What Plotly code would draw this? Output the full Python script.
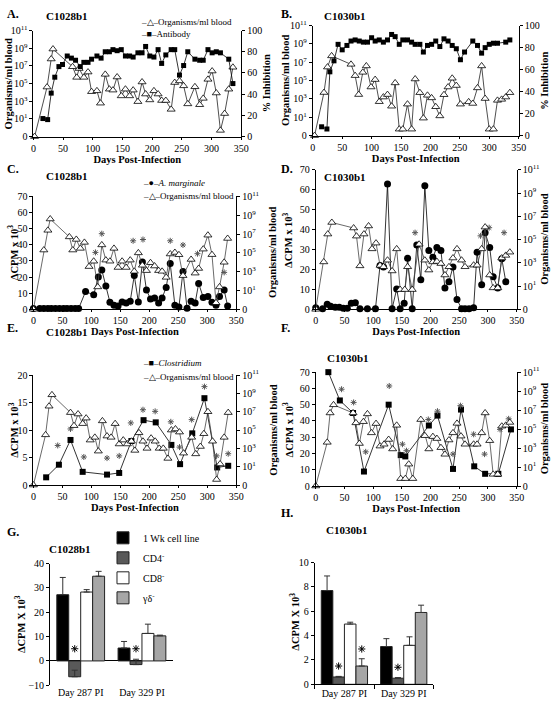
import plotly.graph_objects as go

W, H = 560, 706
FONT = "Liberation Serif"

# ---------------- shared tick definitions ----------------
DAY_TICKS = [0, 50, 100, 150, 200, 250, 300, 350]
ORG_TICKS = [0, 1e1, 1e3, 1e5, 1e7, 1e9, 1e11]
ORG_TICK_TEXT = ["0", "10<sup>1</sup>", "10<sup>3</sup>", "10<sup>5</sup>",
                 "10<sup>7</sup>", "10<sup>9</sup>", "10<sup>11</sup>"]
ZERO_LOG_POS = 0.1  # where the "0" tick sits on the log organisms axis

# ---------------- Panel A (C1028b1) ----------------
a_org_days = [2, 23, 30, 33, 66, 73, 77, 85, 92, 98, 107, 113, 121, 128, 134, 141, 148, 155, 162, 168,
              176, 183, 189, 196, 203, 210, 216, 223, 232, 238, 246, 253, 260, 272, 280, 286, 294, 301,
              308, 315, 322, 329, 336]
a_org = [0, 4e4, 6e7, 8e8, 8e6, 5e5, 5e6, 5e5, 2e6, 1.2e4, 1.5e4, 6e2, 1.1e6, 2.3e4, 1.8e4, 5.5e5, 4e3,
         2.3e4, 4e3, 1.8e4, 9e2, 1.5e5, 6.5e3, 1.4e3, 1.5e4, 6.5e3, 1.2e3, 1.2e3, 1.2e2, 1.3e5, 2e5,
         5.5e4, 5e2, 4.3e4, 4e2, 2.1e3, 3e5, 2.6e6, 8.5e3, 0.5, 40, 2.3e4, 7e6]
a_ab_days = [16, 24, 30, 36, 43, 49, 57, 64, 71, 79, 85, 92, 98, 107, 114, 121, 128, 134, 141, 148, 155,
             162, 168, 176, 183, 189, 196, 203, 210, 216, 223, 232, 238, 246, 253, 260, 272, 280, 286,
             294, 301, 308, 315, 329, 336]
a_ab = [17, 16, 41, 56, 66, 68, 76, 74, 72, 66, 70, 70, 73, 76, 74, 80, 80, 82, 81, 82, 76, 76, 75, 79,
        79, 85, 76, 75, 82, 69, 77, 82, 82, 58, 67, 80, 73, 72, 72, 82, 79, 80, 79, 73, 50]

# ---------------- Panel B (C1030b1) ----------------
b_org_days = [3, 19, 25, 32, 65, 72, 78, 85, 91, 99, 106, 113, 120, 127, 134, 140, 147, 153, 161, 168,
              174, 182, 188, 195, 202, 209, 216, 223, 230, 237, 244, 251, 265, 272, 280, 287, 293, 300,
              307, 314, 321, 328, 335]
b_org = [0, 5e3, 3e6, 5e7, 6e6, 3.5e5, 3e3, 8e5, 4e6, 2e4, 1.3e5, 5e2, 1.6e3, 3e3, 1.6e2, 5.6e4, 0.5,
         0.5, 2.7e2, 0.5, 1.5e5, 4.8e3, 8, 2.5e3, 1.3e3, 1.4e2, 14, 2.9e3, 2e4, 1.8e5, 2.9e4, 2.7e2,
         4.8e2, 3.2e2, 1.6e4, 4e6, 1.1e3, 0.5, 0.5, 7e2, 9e2, 1.6e3, 4.8e3]
b_ab_days = [15, 24, 29, 36, 43, 50, 58, 65, 72, 79, 86, 93, 100, 106, 113, 120, 127, 134, 140, 147, 153,
             161, 168, 174, 182, 188, 195, 202, 209, 216, 223, 230, 237, 244, 251, 258, 272, 280, 287,
             293, 300, 307, 314, 328, 335]
b_ab = [8, 6, 58, 68, 83, 78, 82, 86, 87, 86, 85, 85, 89, 86, 87, 85, 87, 92, 90, 83, 87, 87, 85, 83, 83,
        76, 82, 83, 86, 81, 88, 86, 82, 79, 69, 76, 86, 82, 75, 80, 83, 84, 84, 85, 87]

# ---------------- Panel C (C1028b1, A. marginale) ----------------
c_cpm_days = [0, 11, 18, 25, 31, 38, 45, 52, 58, 65, 72, 78, 90, 104, 112, 118, 125, 132, 139, 146, 153,
              160, 167, 174, 181, 188, 195, 202, 209, 216, 222, 229, 236, 244, 251, 258, 265, 272, 279,
              285, 293, 301, 308, 315, 321, 329, 335]
c_cpm = [0.5, 0.5, 0.5, 0.5, 0.5, 0.5, 0.5, 0.5, 0.5, 0.5, 0.5, 0.5, 11, 9, 20, 24.4, 14.4, 4.4, 2.6, 2,
         4.6, 4, 5, 21, 4.6, 29.4, 12, 6.4, 7, 4, 7, 13.6, 28.4, 2.6, 1.4, 23.4, 0.6, 5, 4, 16, 7.4, 8,
         4.4, 2.6, 8, 12, 2]
c_org_days = [0, 18, 25, 29, 62, 68, 74, 81, 88, 96, 104, 111, 118, 125, 132, 139, 146, 153, 160, 167,
              174, 181, 188, 195, 202, 209, 216, 222, 229, 236, 244, 251, 258, 272, 279, 285, 293, 301,
              308, 315, 321, 329, 335]
c_org = [0, 2e5, 2.5e7, 4e8, 5e6, 2e5, 2.7e6, 3e5, 1.3e6, 3.5e3, 1.3e4, 24, 7e5, 1.7e4, 1.3e4, 3e5,
         2.8e3, 1.3e4, 2.8e3, 1.7e4, 1.1e3, 1e5, 4.8e3, 1.3e3, 9e3, 4e3, 1.3e3, 1.1e3, 2.5e2, 7.6e4,
         1.1e5, 6.3e4, 3.8e2, 2e4, 7e2, 2.2e3, 2.5e5, 7.6e6, 6.5e4, 0.5, 24, 1e4, 3.4e6]
c_sig_days = [107, 118, 172, 189, 236, 258, 283, 329]
c_sig = [35.3, 46.9, 42.5, 43.3, 42.5, 39.9, 34.5, 22.9]

# ---------------- Panel D (C1030b1, A. marginale) ----------------
d_cpm_days = [0, 12, 20, 26, 34, 41, 48, 55, 62, 69, 77, 90, 104, 112, 118, 125, 133, 141, 147, 154,
              160, 168, 176, 183, 190, 197, 204, 211, 218, 225, 232, 239, 246, 254, 260, 267, 275, 281,
              289, 295, 303, 309, 317, 324, 331]
d_cpm = [0.8, 0.3, 2.5, 1.6, 1.1, 1.1, 0.5, 0.5, 3, 3.3, 0.3, 0.3, 0.3, 22, 21.3, 63, 0.3, 10.2, 0.3,
         3, 25.7, 0.3, 32.3, 14.8, 62, 29.5, 26.2, 31.1, 29.5, 10.7, 13.9, 21.3, 4.9, 0.3, 0.3, 0.3,
         0.8, 28.7, 12.3, 38.5, 31.1, 16.4, 10.7, 25.4, 13.9]
d_org_days = [0, 14, 21, 28, 66, 71, 77, 84, 92, 98, 105, 112, 118, 125, 133, 141, 147, 155, 160, 168,
              180, 190, 197, 204, 211, 218, 225, 232, 239, 246, 254, 260, 275, 281, 289, 295, 303, 309,
              317, 324, 331, 338]
d_org = [0, 1.2e3, 3e5, 3e6, 1e6, 2e5, 5.5e2, 3e5, 1.5e6, 1.6e4, 5e4, 6e2, 4.6e2, 1.7e3, 2e2,
         1.6e4, 5, 5, 4.6e2, 5, 4e4, 1.7e3, 2.4e2, 1.2e3, 1.3e3, 8.7e2, 90, 4.6e2, 2.6e3, 1.6e4, 1.7e3,
         4.6e2, 6.3e2, 6.3e2, 1.6e4, 1.2e6, 90, 7, 7, 2.6e3, 4.4e3, 8.3e3]
d_sig_days = [125, 188, 173, 287, 302, 328]
d_sig = [71.5, 71.3, 38.5, 36.9, 41, 38.5]

# ---------------- Panel E (C1028b1, Clostridium) ----------------
e_cpm_days = [22, 44, 64, 85, 127, 148, 169, 190, 211, 238, 253, 274, 295, 317, 336]
e_cpm = [1.4, 3.7, 8.2, 2.4, 1.9, 2.2, 8.0, 11.8, 11.4, 7.3, 3.8, 9.4, 15.8, 3.2, 3.5]
e_org_days = [0, 21, 27, 32, 64, 70, 77, 85, 91, 98, 106, 112, 119, 127, 134, 141, 148, 155, 162, 169,
              175, 182, 189, 196, 203, 210, 217, 224, 232, 238, 245, 252, 259, 273, 280, 288, 294, 301,
              309, 316, 322, 329, 336]
e_org = [0, 3e4, 4e7, 7e8, 8e6, 3e5, 5.6e6, 5e5, 2e6, 8e3, 1.6e4, 5e2, 1e6, 2.2e4, 1.6e4, 5e5, 3e3,
         8e3, 3e3, 6e3, 6e2, 5e4, 6e3, 1e3, 1.3e4, 6e3, 1e3, 1e3, 80, 1e5, 1.3e5, 6e4, 3e2, 1.6e4,
         2.5e2, 1.6e3, 4e4, 1e7, 6e3, 0.4, 20, 1.6e4, 8e6]
e_sig_days = [42, 64, 87, 127, 148, 168, 189, 210, 237, 252, 273, 295, 316, 336]
e_sig = [7.2, 10.2, 5.1, 4.9, 5.3, 11.3, 13.7, 13.4, 11.5, 6.9, 11.9, 17.9, 5.3, 5.7]

# ---------------- Panel F (C1030b1, Clostridium) ----------------
f_cpm_days = [22, 42, 65, 84, 127, 148, 156, 197, 212, 239, 253, 276, 295, 318, 340]
f_cpm = [70, 52.6, 44.9, 8.9, 50, 19, 18.2, 37.2, 43.3, 10.5, 47, 12.1, 7.5, 7.5, 34.8]
f_org_days = [0, 20, 25, 31, 65, 70, 76, 83, 90, 97, 105, 112, 119, 127, 134, 141, 148, 156, 162, 169,
              183, 190, 197, 204, 211, 218, 225, 232, 239, 246, 253, 260, 275, 281, 289, 295, 303, 309,
              317, 324, 331, 338]
f_org = [0, 4e3, 5e6, 3.6e7, 5e6, 4.5e5, 3e3, 6e5, 4e6, 4e4, 3.8e5, 1.6e3, 2.5e3, 8e3, 8e2, 2.5e5, 0.6,
         0.6, 20, 0.6, 1e6, 2e4, 8e2, 1.6e4, 1e4, 1.1e3, 2.2e2, 7e3, 4e4, 4e5, 1.8e4, 2.5e3, 2.5e3,
         2.5e3, 4e4, 5e6, 6e3, 1.7, 1.7, 2e5, 2.5e5, 5e5]
f_sig_days = [22, 45, 66, 87, 128, 151, 158, 196, 212, 239, 252, 275, 294, 321, 336]
f_sig = [73, 59.5, 51.4, 21, 61.5, 25.7, 21.7, 40.9, 46, 19.6, 49.4, 31.8, 19.6, 34.8, 41.3]

# ---------------- Panels G / H (bar charts) ----------------
bar_cats = ["Day 287 PI", "Day 329 PI"]
bar_series = ["1 Wk cell line", "CD4<sup>-</sup>", "CD8<sup>-</sup>", "γδ<sup>-</sup>"]
g_vals = [[27.2, 5.3], [-6.5, -1.5], [28.3, 11.3], [34.8, 10.3]]
g_err = [[7.1, 2.7], [2.7, 2.2], [1.0, 3.8], [2.0, 0.3]]
g_sig = [5.0, 5.0]            # asterisks over CD4- bars
h_vals = [[7.7, 3.1], [0.6, 0.5], [4.95, 3.2], [1.5, 5.9]]
h_err = [[1.2, 0.65], [0.05, 0.05], [0.15, 0.7], [0.6, 0.6]]
h_sig_cd4 = [1.5, 1.4]
h_sig_gd = [2.9]

# ---------------- styling helpers ----------------
BAR_COLORS = ["#000000", "#595959", "#ffffff", "#a6a6a6"]
GROUP_W = 0.78
BAR_W = GROUP_W / len(bar_series)


def org_y(vals):
    return [v if (v is not None and v > 0) else ZERO_LOG_POS for v in vals]


def xdom(a, b):
    return [a / W, b / W]


def ydom(top, bot):
    return [1 - bot / H, 1 - top / H]


TICKFONT = dict(family=FONT, size=10, color="black")
TITLEFONT = dict(family=FONT, size=10.5, color="black", weight="bold")
AX = dict(showline=True, linecolor="black", linewidth=1, ticks="outside", ticklen=3,
          tickcolor="black", tickwidth=1, showgrid=False, zeroline=False, tickfont=TICKFONT)


def day_axis(dom, anchor):
    return dict(AX, domain=dom, anchor=anchor, range=[0, 350], tickvals=DAY_TICKS, ticklen=2,
                title=dict(text="Days Post-Infection", font=TITLEFONT, standoff=0))


def org_axis(dom, anchor, side, overlay=None):
    d = dict(AX, type="log", range=[-1, 11], tickvals=org_y(ORG_TICKS), ticktext=ORG_TICK_TEXT,
             side=side, anchor=anchor)
    if overlay:
        d["overlaying"] = overlay
    else:
        d["domain"] = dom
    return d


def lin_axis(dom, anchor, rng, dtick, side="left", overlay=None):
    d = dict(AX, range=rng, dtick=dtick, side=side, anchor=anchor)
    if overlay:
        d["overlaying"] = overlay
    else:
        d["domain"] = dom
    return d


def org_trace(days, vals, xa, ya, lc="#444444"):
    return go.Scatter(x=days, y=org_y(vals), xaxis=xa, yaxis=ya, mode="lines+markers",
                      name="Organisms/ml blood", showlegend=False,
                      line=dict(color=lc, width=0.8),
                      marker=dict(symbol="triangle-up", size=7, color="white",
                                  line=dict(color="black", width=0.8)),
                      cliponaxis=False)


def filled_trace(days, vals, xa, ya, symbol, size, name):
    return go.Scatter(x=days, y=vals, xaxis=xa, yaxis=ya, mode="lines+markers", name=name,
                      showlegend=False, line=dict(color="black", width=0.8),
                      marker=dict(symbol=symbol, size=size, color="black"), cliponaxis=False)


def sig_trace(days, vals, xa, ya, color="#555555", size=5):
    return go.Scatter(x=days, y=vals, xaxis=xa, yaxis=ya, mode="markers", showlegend=False,
                      marker=dict(symbol="asterisk-open", size=size, color=color,
                                  line=dict(color=color, width=1)),
                      cliponaxis=False, hoverinfo="skip")


fig = go.Figure()

# Panel A
fig.add_trace(org_trace(a_org_days, a_org, "x", "y", lc="#222222"))
fig.add_trace(filled_trace(a_ab_days, a_ab, "x", "y2", "square", 5, "Antibody"))
# Panel B
fig.add_trace(org_trace(b_org_days, b_org, "x2", "y3", lc="#222222"))
fig.add_trace(filled_trace(b_ab_days, b_ab, "x2", "y4", "square", 5, "Antibody"))
# Panel C
fig.add_trace(org_trace(c_org_days, c_org, "x3", "y6"))
fig.add_trace(filled_trace(c_cpm_days, c_cpm, "x3", "y5", "circle", 7, "A. marginale"))
fig.add_trace(sig_trace(c_sig_days, c_sig, "x3", "y5"))
# Panel D
fig.add_trace(org_trace(d_org_days, d_org, "x4", "y8"))
fig.add_trace(filled_trace(d_cpm_days, d_cpm, "x4", "y7", "circle", 7, "A. marginale"))
fig.add_trace(sig_trace(d_sig_days, d_sig, "x4", "y7"))
# Panel E
fig.add_trace(org_trace(e_org_days, e_org, "x5", "y10"))
fig.add_trace(filled_trace(e_cpm_days, e_cpm, "x5", "y9", "square", 6, "Clostridium"))
fig.add_trace(sig_trace(e_sig_days, e_sig, "x5", "y9"))
# Panel F
fig.add_trace(org_trace(f_org_days, f_org, "x6", "y12"))
fig.add_trace(filled_trace(f_cpm_days, f_cpm, "x6", "y11", "square", 6, "Clostridium"))
fig.add_trace(sig_trace(f_sig_days, f_sig, "x6", "y11"))

# Panels G and H: grouped bars on a numeric category axis
cat_pos = list(range(len(bar_cats)))


def bar_offset(i):
    return -GROUP_W / 2 + i * BAR_W


for vals, errs, xa, ya, show in [(g_vals, g_err, "x7", "y13", True), (h_vals, h_err, "x8", "y14", False)]:
    for i, name in enumerate(bar_series):
        fig.add_trace(go.Bar(
            x=cat_pos, y=vals[i], width=BAR_W, offset=bar_offset(i), xaxis=xa, yaxis=ya,
            name=name, legendgroup=name, showlegend=show,
            marker=dict(color=BAR_COLORS[i], line=dict(color="#222222", width=1)),
            error_y=dict(type="data", symmetric=False, array=errs[i], arrayminus=[0] * len(errs[i]),
                         color="#333333", thickness=1, width=3)))


def sig_x(series_idx, cats):
    return [c + bar_offset(series_idx) + BAR_W / 2 for c in cats]


fig.add_trace(sig_trace(sig_x(1, cat_pos), g_sig, "x7", "y13", color="black", size=6))
fig.add_trace(sig_trace(sig_x(1, cat_pos) + sig_x(3, cat_pos[:1]), h_sig_cd4 + h_sig_gd, "x8", "y14",
                        color="black", size=6))

# ---------------- layout ----------------
lay = dict(
    width=W, height=H, margin=dict(l=0, r=0, t=0, b=0), paper_bgcolor="white", plot_bgcolor="rgba(0,0,0,0)",
    font=dict(family=FONT, size=10, color="black"), barmode="overlay",
    # A
    xaxis=day_axis(xdom(31, 243), "y"),
    yaxis=org_axis(ydom(24, 132), "x", "left"),
    yaxis2=lin_axis(None, "x", [0, 100], 20, side="right", overlay="y"),
    # B
    xaxis2=day_axis(xdom(316, 526), "y3"),
    yaxis3=org_axis(ydom(19, 131), "x2", "left"),
    yaxis4=lin_axis(None, "x2", [0, 100], 20, side="right", overlay="y3"),
    # C
    xaxis3=day_axis(xdom(31, 238), "y5"),
    yaxis5=lin_axis(ydom(193, 308), "x3", [0, 70], 10),
    yaxis6=org_axis(None, "x3", "right", overlay="y5"),
    # D
    xaxis4=day_axis(xdom(319, 524), "y7"),
    yaxis7=lin_axis(ydom(166, 308), "x4", [0, 70], 10),
    yaxis8=org_axis(None, "x4", "right", overlay="y7"),
    # E
    xaxis5=day_axis(xdom(31, 238), "y9"),
    yaxis9=lin_axis(ydom(375, 487), "x5", [0, 20], 5),
    yaxis10=org_axis(None, "x5", "right", overlay="y9"),
    # F
    xaxis6=day_axis(xdom(319, 524), "y11"),
    yaxis11=lin_axis(ydom(372, 488), "x6", [0, 70], 10),
    yaxis12=org_axis(None, "x6", "right", overlay="y11"),
    # G
    xaxis7=dict(domain=xdom(48, 173), anchor="y13", range=[-0.5, 1.5], tickvals=cat_pos,
                ticktext=bar_cats, showline=False, ticks="", showgrid=False, zeroline=False,
                tickfont=TICKFONT),
    yaxis13=dict(AX, domain=ydom(567, 691), anchor="x7", range=[-10, 40], dtick=10,
                 zeroline=True, zerolinecolor="black", zerolinewidth=1),
    # H
    xaxis8=dict(domain=xdom(318, 439), anchor="y14", range=[-0.5, 1.5], tickvals=cat_pos,
                ticktext=bar_cats, showline=True, linecolor="black", linewidth=1, ticks="",
                showgrid=False, zeroline=False, tickfont=TICKFONT,
                minor=dict(tickmode="array", tickvals=[-0.5, 0.5, 1.5], ticks="outside", ticklen=4,
                           tickcolor="black")),
    yaxis14=dict(AX, domain=ydom(566, 690), anchor="x8", range=[0, 10], dtick=2),
    legend=dict(bgcolor="rgba(0,0,0,0)", font=dict(family=FONT, size=10, color="black"),
                xanchor="left", yanchor="top", itemwidth=30, tracegroupgap=1,
                x=102 / W, y=1 - 526 / H),
)
fig.update_layout(**lay)


def note(txt, x, y, size=10, bold=False, angle=0, anchor="left"):
    fig.add_annotation(text=txt, x=x / W, y=1 - y / H, xref="paper", yref="paper", xanchor=anchor,
                       yanchor="middle", showarrow=False, textangle=angle,
                       font=dict(family=FONT, size=size, color="black",
                                 weight="bold" if bold else "normal"))


# panel letters and animal labels
labels = [("A.", 2, 7, 12), ("C1028b1", 42, 9, 11), ("B.", 282, 7, 12), ("C1030b1", 325, 9, 11),
          ("C.", 2, 165, 12), ("C1028b1", 42, 172, 11), ("D.", 282, 165, 12), ("C1030b1", 325, 173, 11),
          ("E.", 2, 327, 12), ("C1028b1", 42, 331, 11), ("F.", 282, 327, 12), ("C1030b1", 328, 358, 11),
          ("G.", 2, 535, 12), ("C1028b1", 45, 552, 11), ("H.", 282, 515, 12), ("C1030b1", 327, 533, 11)]
for txt, x, y, s in labels:
    note(txt, x, y, size=s, bold=True)

# y-axis titles (rotated)
ytitles = [("Organisms/ml blood", 6, 78), ("% Inhibition", 269, 78),
           ("Organisms/ml blood", 288, 75), ("% Inhibition", 552, 75),
           ("ΔCPM x 10<sup>3</sup>", 10, 250), ("Organisms/ml blood", 275, 250),
           ("ΔCPM x 10<sup>3</sup>", 290, 237), ("Organisms/ml blood", 552, 237),
           ("ΔCPM x 10<sup>3</sup>", 10, 431), ("Organisms/ml blood", 275, 431),
           ("ΔCPM x 10<sup>3</sup>", 290, 430), ("Organisms/ml blood", 552, 430),
           ("ΔCPM X 10<sup>3</sup>", 17, 629), ("ΔCPM X 10<sup>3</sup>", 297, 626)]
for txt, x, y in ytitles:
    note(txt, x, y, size=10.5, bold=True, angle=-90, anchor="center")

# line-chart keys (drawn as text keys, as in the original figure)
keys = [("–△–Organisms/ml blood", 139, 15), ("–■–Antibody", 139, 28),
        ("–●–<i>A. marginale</i>", 141, 179), ("–△–Organisms/ml blood", 141, 193),
        ("–■–<i>Clostridium</i>", 141, 363), ("–△–Organisms/ml blood", 141, 377)]
for txt, x, y in keys:
    note(txt, x, y, size=9)

fig.write_html("out.html", include_plotlyjs=True, config={"displayModeBar": False},
               post_script="document.body.style.margin='0px';document.body.style.overflow='hidden';")
